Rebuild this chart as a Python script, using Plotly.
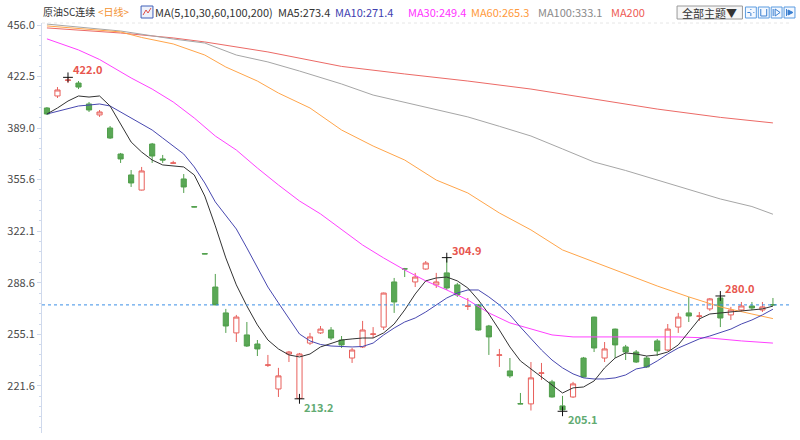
import plotly.graph_objects as go

# daily candles (red hollow = up, green filled = down)
opens = [402.1, 409.9, 420.0, 418.3, 404.7, 397.6, 389.1, 372.2, 358.6, 348.8,
         378.7, 369.0, 366.2, 356.0, 338.0, 307.5, 285.8, 269.0, 256.0, 254.7,
         248.8, 235.0, 219.6, 242.3, 213.5, 249.4, 256.0, 257.9, 251.4, 239.7,
         246.9, 255.1, 259.8, 289.1, 297.7, 289.1, 297.5, 287.2, 295.0, 287.2,
         273.3, 274.2, 260.5, 241.5, 231.3, 210.1, 209.9, 229.8, 224.2, 208.6,
         214.4, 239.7, 266.3, 239.7, 258.5, 246.9, 243.6, 239.7, 250.8, 244.9,
         259.8, 269.0, 266.8, 271.6, 278.7, 267.7, 270.9, 273.5, 270.9, 274.4]
highs = [402.7, 415.7, 422.0, 419.6, 406.0, 400.8, 390.4, 372.9, 361.8, 363.8,
         379.4, 371.6, 367.8, 359.2, 338.2, 307.6, 294.3, 271.6, 267.7, 263.1,
         251.4, 241.7, 233.3, 244.3, 243.0, 256.0, 260.5, 259.8, 254.0, 246.2,
         263.8, 259.8, 282.2, 291.7, 298.2, 295.0, 302.7, 295.0, 304.9, 288.5,
         278.7, 274.8, 261.2, 245.6, 239.7, 217.0, 237.1, 236.5, 225.5, 215.1,
         224.2, 240.4, 266.5, 250.1, 258.8, 248.2, 244.9, 241.0, 252.1, 261.8,
         269.0, 279.4, 269.6, 278.7, 280.0, 272.9, 276.1, 276.1, 276.1, 278.7]
lows = [397.6, 408.6, 418.3, 414.4, 399.5, 396.3, 382.0, 366.4, 350.8, 348.5,
        366.4, 366.4, 365.7, 346.9, 337.6, 307.2, 274.0, 256.0, 250.1, 246.9,
        241.0, 233.9, 214.4, 237.1, 213.2, 248.2, 255.3, 251.4, 246.2, 236.5,
        246.2, 252.7, 257.9, 269.0, 292.3, 285.8, 297.0, 285.2, 283.9, 279.4,
        270.9, 257.5, 241.7, 233.9, 226.8, 209.7, 205.6, 225.5, 214.0, 205.1,
        213.8, 227.0, 243.6, 237.1, 239.7, 238.4, 236.5, 233.3, 241.0, 244.3,
        256.0, 263.1, 263.8, 270.3, 259.8, 264.4, 269.6, 270.9, 269.6, 273.5]
closes = [398.2, 413.8, 420.3, 415.7, 400.8, 399.5, 382.6, 369.0, 353.4, 361.2,
          370.9, 368.3, 366.4, 350.8, 337.8, 307.3, 274.2, 260.5, 266.3, 247.5,
          245.6, 235.2, 228.1, 243.6, 242.3, 253.4, 258.5, 252.7, 248.2, 244.9,
          257.9, 255.3, 281.9, 276.1, 297.5, 292.3, 301.4, 289.1, 285.2, 280.7,
          273.5, 257.9, 253.4, 241.7, 228.1, 209.9, 226.8, 230.0, 214.4, 206.0,
          222.9, 227.4, 246.2, 245.6, 248.2, 243.6, 237.1, 233.9, 244.3, 258.5,
          266.3, 267.0, 267.0, 278.1, 265.7, 270.9, 273.5, 272.2, 272.9, 274.2]

# moving averages as drawn
ma5 = [398.2, 402.1, 406.6, 409.9, 409.2, 409.9, 403.4, 391.7, 380.0, 373.5,
       368.3, 365.1, 364.4, 363.8, 358.6, 344.9, 325.5, 304.7, 287.2, 273.5,
       261.2, 251.4, 245.6, 241.7, 240.4, 242.3, 246.9, 249.4, 251.4, 252.1,
       252.7, 252.7, 256.0, 261.8, 270.9, 281.3, 289.8, 291.7, 292.3, 289.8,
       285.2, 277.4, 268.3, 257.9, 246.9, 237.8, 232.6, 227.4, 221.6, 217.0,
       220.3, 220.9, 224.8, 233.3, 239.7, 243.0, 242.3, 241.0, 241.7, 243.6,
       248.2, 256.6, 265.1, 268.3, 269.0, 269.6, 270.3, 270.9, 271.6, 273.4]
ma10 = [398.2, 400.1, 401.8, 403.4, 404.0, 404.7, 403.4, 399.5, 395.6, 391.7,
        387.8, 382.6, 377.4, 372.2, 363.8, 353.4, 341.1, 332.0, 323.5, 311.2,
        298.8, 285.8, 275.5, 265.7, 255.3, 250.8, 248.5, 247.5, 247.2, 246.9,
        247.2, 249.4, 254.7, 259.2, 263.1, 265.7, 269.6, 274.2, 278.7, 281.9,
        283.9, 283.9, 279.4, 274.2, 267.7, 259.8, 252.1, 244.9, 238.4, 233.3,
        229.4, 226.8, 226.1, 226.1, 226.8, 228.7, 232.6, 233.9, 237.8, 242.3,
        246.2, 249.4, 252.1, 254.0, 256.0, 258.5, 261.8, 264.4, 267.7, 271.4]

ma30_idx = [0, 3, 5, 8, 10, 12, 14, 16, 18, 20, 22, 24, 26, 28, 30, 32, 34, 36,
            38, 40, 42, 44, 46, 48, 50, 55, 60, 63, 66, 69]
ma30 = [447.0, 439.8, 433.6, 421.6, 414.4, 406.0, 395.6, 383.9, 374.8, 363.1,
        352.1, 341.7, 333.3, 322.9, 313.1, 304.7, 296.9, 289.8, 283.9, 277.4,
        269.0, 262.5, 258.5, 254.7, 253.4, 253.4, 253.4, 252.7, 250.8, 249.4]
ma60_idx = [0, 4, 7, 9, 12, 15, 17, 20, 22, 25, 28, 31, 34, 37, 40, 43, 46, 49,
            52, 55, 58, 61, 64, 67, 69]
ma60 = [455.4, 453.4, 451.5, 447.9, 443.7, 436.5, 428.7, 419.6, 411.8, 402.1,
        387.8, 377.4, 368.3, 355.3, 346.9, 333.9, 322.9, 309.9, 302.1, 294.3,
        286.5, 279.4, 272.9, 268.3, 265.3]
ma100_idx = [0, 7, 12, 15, 18, 21, 24, 28, 31, 34, 37, 40, 43, 46, 49, 52, 55,
             58, 61, 64, 67, 69]
ma100 = [456.6, 452.1, 446.9, 444.3, 436.5, 432.0, 426.1, 417.7, 410.5, 405.9,
         401.2, 396.3, 390.2, 383.9, 375.5, 367.0, 361.5, 355.3, 349.5, 343.0,
         338.1, 333.1]
ma200_idx = [0, 7, 12, 15, 21, 28, 34, 40, 46, 52, 58, 64, 69]
ma200 = [454.1, 450.8, 447.6, 445.0, 438.5, 429.1, 424.2, 419.6, 414.4, 407.9,
         401.4, 396.0, 392.4]

# marked extremes
mark_idx = [2, 38, 64, 24, 49]
mark_val = [422.0, 304.9, 280.0, 213.2, 205.1]
mark_is_high = [True, True, True, False, False]

ytick_vals = [221.6, 255.1, 288.6, 322.1, 355.6, 389.0, 422.5, 456.0]

FONT = "Noto Sans CJK SC"
W, H = 800, 440
ML, MR, MT, MB = 35, 10, 23, 7
PW, PH = W - ML - MR, H - MT - MB


def px(x):
    return (x - ML) / PW


def py(y):
    return (H - MB - y) / PH


x = list(range(len(closes)))

fig = go.Figure()

fig.add_trace(go.Candlestick(
    x=x, open=opens, high=highs, low=lows, close=closes,
    increasing=dict(line=dict(color="#e8605c", width=1), fillcolor="#ffffff"),
    decreasing=dict(line=dict(color="#519f4c", width=1), fillcolor="#5aa856"),
    whiskerwidth=0, showlegend=False, hoverinfo="skip",
))

lines = [
    (ma200_idx, ma200, "#ec6a66"),
    (ma100_idx, ma100, "#a6a6a6"),
    (ma60_idx, ma60, "#ffa54a"),
    (ma30_idx, ma30, "#ff40ff"),
    (x, ma10, "#4848b0"),
    (x, ma5, "#333333"),
]
for xs, ys, c in lines:
    fig.add_trace(go.Scatter(x=xs, y=ys, mode="lines", line=dict(color=c, width=1),
                             showlegend=False, hoverinfo="skip"))

# black cross at the extremes
fig.add_trace(go.Scatter(
    x=mark_idx, y=mark_val, mode="markers",
    marker=dict(symbol="cross-thin", size=7, line=dict(color="#111111", width=1)),
    showlegend=False, hoverinfo="skip",
))

annotations = []
for i, v, hi in zip(mark_idx, mark_val, mark_is_high):
    annotations.append(dict(
        x=i, y=v, xref="x", yref="y", text="<b>%.1f</b>" % v, showarrow=False,
        xanchor="left", yanchor="middle", xshift=3, yshift=8 if hi else -8,
        font=dict(family=FONT, size=11, color="#e8564f" if hi else "#62ab72"),
    ))

# header: (left px, text, colour, font size)
header = [
    (35, "原油SC连续", "#333333", 10),
    (91, "&lt;日线&gt;", "#f39130", 10),
    (148, "MA(5,10,30,60,100,200)", "#333333", 11),
    (272, "MA5:273.4", "#333333", 11),
    (330, "MA10:271.4", "#4040b0", 11),
    (403, "MA30:249.4", "#ff33ff", 11),
    (467, "MA60:265.3", "#ff9a3c", 11),
    (535, "MA100:333.1", "#8a8a8a", 11),
    (608, "MA200", "#ee5a55", 11),
]
for hx, txt, c, fs in header:
    annotations.append(dict(
        x=px(hx), y=py(12), xref="paper", yref="paper", text=txt, showarrow=False,
        xanchor="left", yanchor="middle", xshift=-1,
        font=dict(family=FONT, size=fs, color=c),
    ))
annotations.append(dict(
    x=px(709), y=py(13), xref="paper", yref="paper", text="全部主题▼", showarrow=False,
    xanchor="center", yanchor="middle", font=dict(family=FONT, size=11, color="#333333"),
))

shapes = [
    # last price
    dict(type="line", xref="paper", yref="y", x0=0, x1=1, y0=closes[-1], y1=closes[-1],
         line=dict(color="#3a8ee6", width=1, dash="dot")),
    # faint top border
    dict(type="line", xref="paper", yref="paper", x0=0, x1=1, y0=1, y1=1,
         line=dict(color="#e6e6e6", width=1, dash="dot")),
    # MA icon
    dict(type="rect", xref="paper", yref="paper", x0=px(135), x1=px(147),
         y0=py(18), y1=py(6), line=dict(color="#3f5fb8", width=1), fillcolor="#eef2fb"),
    dict(type="path", xref="paper", yref="paper",
         path="M %f %f L %f %f L %f %f L %f %f" % (px(137), py(15), px(140), py(10),
                                                 px(142), py(13), px(145), py(8)),
         line=dict(color="#e0504a", width=1)),
    # theme button
    dict(type="rect", xref="paper", yref="paper", x0=px(676), x1=px(742),
         y0=py(19), y1=py(6), line=dict(color="#9a9a9a", width=1), fillcolor="#f6f6f6"),
]
for bx in [745, 758, 771, 784]:
    shapes.append(dict(type="rect", xref="paper", yref="paper", x0=px(bx), x1=px(bx + 11),
                       y0=py(18), y1=py(7), line=dict(color="#5a9be0", width=1),
                       fillcolor="#f3f8ff"))
# glyphs inside the small buttons
shapes += [
    dict(type="line", xref="paper", yref="paper", x0=px(750.5), x1=px(750.5), y0=py(16), y1=py(9),
         line=dict(color="#3a7fd0", width=1, dash="dot")),
    dict(type="line", xref="paper", yref="paper", x0=px(747), x1=px(754), y0=py(12.5), y1=py(12.5),
         line=dict(color="#3a7fd0", width=1, dash="dot")),
    dict(type="path", xref="paper", yref="paper",
         path="M %f %f L %f %f L %f %f L %f %f" % (px(760.5), py(9), px(760.5), py(16),
                                                 px(766.5), py(16), px(766.5), py(9)),
         line=dict(color="#3a7fd0", width=1)),
    dict(type="path", xref="paper", yref="paper",
         path="M %f %f L %f %f L %f %f Z" % (px(775), py(9), px(775), py(16), px(780), py(12.5)),
         line=dict(color="#3a7fd0", width=1)),
    dict(type="line", xref="paper", yref="paper", x0=px(773), x1=px(773), y0=py(9), y1=py(16),
         line=dict(color="#3a7fd0", width=1)),
    dict(type="line", xref="paper", yref="paper", x0=px(786.5), x1=px(786.5), y0=py(9), y1=py(16),
         line=dict(color="#3a7fd0", width=1)),
    dict(type="path", xref="paper", yref="paper",
         path="M %f %f L %f %f L %f %f Z" % (px(788), py(10), px(788), py(15), px(793), py(12.5)),
         line=dict(color="#3a7fd0", width=1), fillcolor="#3a7fd0"),
]

fig.update_layout(
    width=W, height=H,
    margin=dict(l=ML, r=MR, t=MT, b=MB),
    paper_bgcolor="white", plot_bgcolor="white",
    font=dict(family=FONT, size=11, color="#444444"),
    annotations=annotations, shapes=shapes,
    showlegend=False,
)
fig.update_xaxes(range=[-0.47, 70.62], rangeslider_visible=False, showticklabels=False,
                 showgrid=False, zeroline=False, showline=False, ticks="")
fig.update_yaxes(
    range=[191.0, 457.3], tickvals=ytick_vals, ticktext=["%.1f" % v for v in ytick_vals],
    showgrid=False, zeroline=False, showline=True, linecolor="#cfd9ec", linewidth=1,
    ticks="outside", ticklen=4, tickcolor="#cfd9ec",
    tickfont=dict(family=FONT, size=11, color="#4a4a4a"),
    minor=dict(tick0=221.6, dtick=6.697, ticks="outside", ticklen=2, tickcolor="#cfd9ec"),
)

# page margin off so the figure sits at the window's corner
fig.write_html("out.html", config={"displayModeBar": False},
               post_script="document.body.style.margin='0';")
